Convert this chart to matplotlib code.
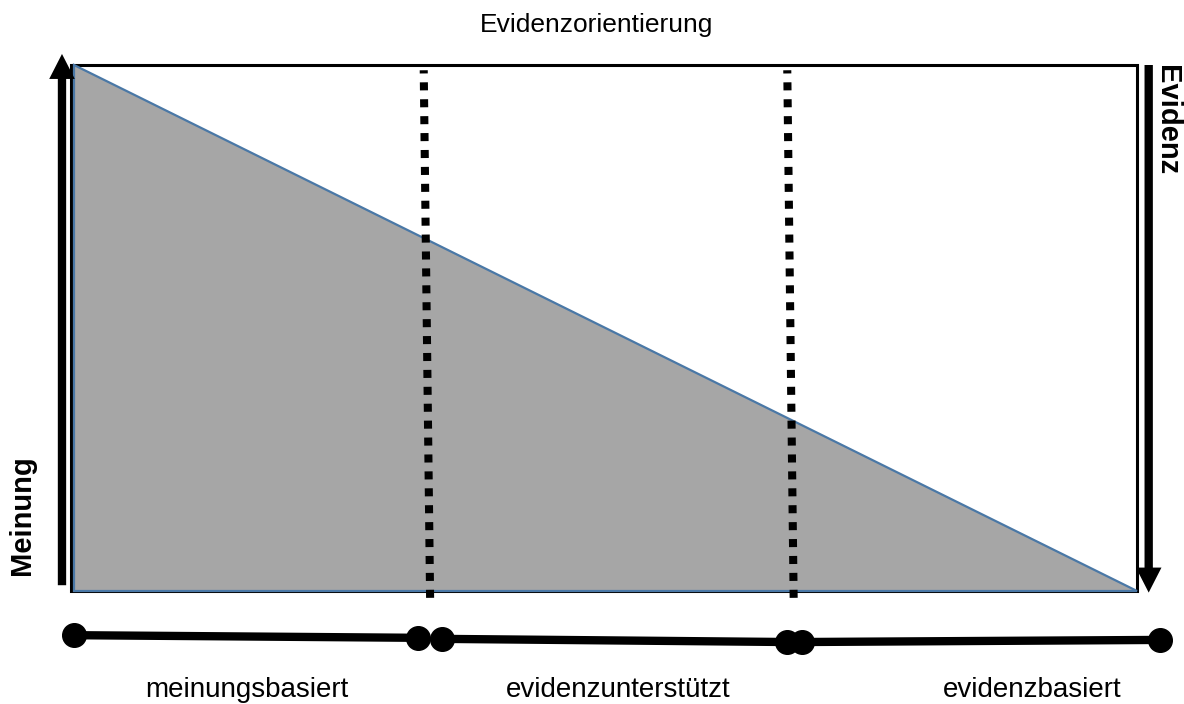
import matplotlib.pyplot as plt
from matplotlib.patches import Polygon, Rectangle

plt.rcParams['font.family'] = ['Liberation Sans', 'DejaVu Sans']

# Evidenzorientierung (x: 0 = Meinung, 1 = Evidenz), share of opinion
orient_x = [0.0, 1.0]
meinung_share = [1.0, 0.0]

# dotted region borders (top x, bottom x)
border_top = [0.329, 0.671]
border_bottom = [0.335, 0.677]

# bottom scale segments
seg_x = [[0.0, 0.324], [0.346, 0.671], [0.685, 1.022]]
seg_y = [[-0.084, -0.089], [-0.091, -0.097], [-0.097, -0.093]]

region_labels = ['meinungsbasiert', 'evidenzunterstützt', 'evidenzbasiert']
label_x = [0.163, 0.512, 0.901]

W, H = 1184, 704
fig = plt.figure(figsize=(W / 100, H / 100), dpi=100)
# axes spans the triangle: x 74..1137 px, y 65..591 px
ax = fig.add_axes([74 / W, (H - 591) / H, (1137 - 74) / W, (591 - 65) / H])
ax.set_xlim(0, 1)
ax.set_ylim(0, 1)
ax.axis('off')

# frame
ax.add_patch(Rectangle((-0.003, 0), 1.003, 1.0, fill=False, ec='black', lw=2.2, clip_on=False))

# triangle
pts = [(orient_x[0], meinung_share[0]), (orient_x[0], 0), (orient_x[1], meinung_share[1])]
ax.add_patch(Polygon(pts, closed=True, fc='#a6a6a6', ec='#4a78a6', lw=1.6, clip_on=False, zorder=2))

# dotted borders (drawn bottom-up so a dot sits at the bottom)
for xt, xb in zip(border_top, border_bottom):
    ax.plot([xb, xt], [-0.013, 0.99], color='black', lw=5.8, linestyle=(0, (1, 1.1)),
            dash_capstyle='butt', clip_on=False, zorder=3)

# arrows
arrow = dict(arrowstyle='simple,head_length=0.9,head_width=0.92,tail_width=0.3',
             fc='black', ec='black', lw=0, mutation_scale=20, shrinkA=0, shrinkB=0)
ax.annotate('', xy=(-0.0113, 1.021), xytext=(-0.0113, 0.011), arrowprops=arrow,
            annotation_clip=False)
ax.annotate('', xy=(1.011, -0.003), xytext=(1.011, 1.0), arrowprops=arrow,
            annotation_clip=False)

# bottom scale
for xs, ys in zip(seg_x, seg_y):
    ax.plot(xs, ys, color='black', lw=6, marker='o', ms=17, solid_capstyle='butt',
            clip_on=False)

# texts
fig.text(0.5035, 1 - 25 / H, 'Evidenzorientierung', ha='center', va='center', fontsize=19)
for lab, lx in zip(region_labels, label_x):
    ax.text(lx, (591 - 690) / 526, lab, ha='center', va='center', fontsize=20)
fig.text(22 / W, 1 - 515 / H, 'Meinung', rotation=90, ha='center', va='center',
         fontsize=21, fontweight='bold')
fig.text(1167 / W, 1 - 120 / H, 'Evidenz', rotation=-90, ha='center', va='center',
         fontsize=21, fontweight='bold')

fig.savefig('out.png', dpi=100)
